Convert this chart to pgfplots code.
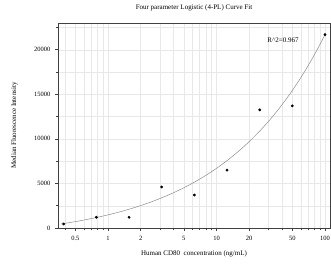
\documentclass[border=0pt]{standalone}
\usepackage{fontspec}
\setmainfont{Liberation Serif}
\usepackage{pgfplots}
\pgfplotsset{compat=1.18}
\begin{document}
\begin{tikzpicture}
\path[use as bounding box] (-58pt,-36pt) rectangle (273pt,228pt);
\begin{axis}[
  scale only axis, width=272pt, height=205pt,
  xmode=log, xmin=0.346, xmax=111.2, ymin=0, ymax=23000,
  axis line style={draw=black!75, line width=0.7pt},
  xtick={0.5,1,2,5,10,20,50,100},
  xticklabels={0.5,1,2,5,10,20,50,100},
  minor xtick={0.4,0.6,0.7,0.8,0.9,3,4,6,7,8,9,30,40,60,70,80,90},
  ytick={0,5000,10000,15000,20000},
  minor ytick={2500,7500,12500,17500,22500},
  scaled y ticks=false,
  grid=both,
  major grid style={draw=black!9, line width=0.4pt},
  minor grid style={draw=black!9, line width=0.4pt},
  tick align=outside, tick pos=left,
  major tick length=3pt, minor tick length=2pt,
  tick style={draw=black!75, line width=0.5pt},
  every tick label/.append style={font=\fontsize{6.5}{7}\selectfont},
  /pgf/number format/assume math mode=true,
  /pgf/number format/1000 sep={},
  xticklabel style={yshift=-2pt},
  yticklabel style={xshift=-1pt},
  title={Four parameter Logistic (4-PL) Curve Fit},
  title style={font=\fontsize{7}{8}\selectfont, yshift=2.5pt},
  xlabel={Human CD80\ \ concentration (ng/mL)},
  ylabel={Median Fluorescence Intensity},
  label style={font=\fontsize{7}{8}\selectfont},
  xlabel style={yshift=-3pt},
  ylabel style={at={(axis description cs:-0.16,0.5)}, anchor=center},
]
\addplot[draw=black!45, line width=0.5pt, smooth] coordinates {
(0.370,452) (0.5012,716) (0.631,943) (0.794,1194) (1,1473) (1.259,1783)
(1.585,2128) (1.995,2511) (2.512,2937) (3.162,3411) (3.981,3937) (5.012,4521)
(6.310,5170) (7.943,5892) (10,6694) (12.59,7585) (15.85,8576) (19.95,9677)
(25.12,10900) (31.62,12259) (39.81,13769) (50.12,15448) (63.10,17313)
(79.43,19386) (100,21688)
};
\addplot[only marks, mark=*, mark size=1.2pt, black] coordinates {
(0.390625,450) (0.78125,1200) (1.5625,1200) (3.125,4600) (6.25,3700)
(12.5,6500) (25,13250) (50,13700) (100,21700)
};
\node[font=\fontsize{7}{8}\selectfont] at (axis cs:41,21120) {R\textasciicircum2=0.967};
\end{axis}
\end{tikzpicture}
\end{document}
